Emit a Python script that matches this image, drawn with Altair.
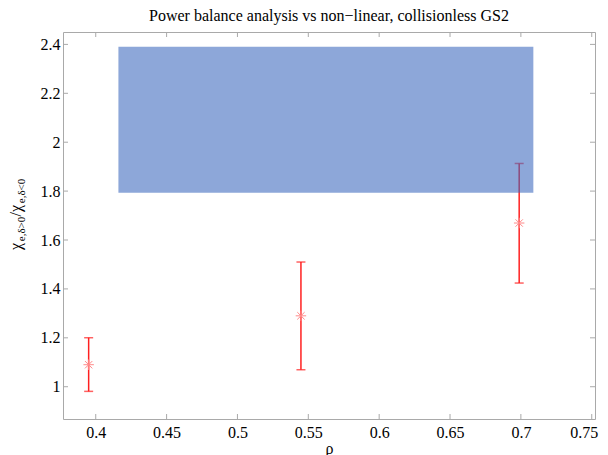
import altair as alt
import pandas as pd

# ---- data ----
rho = [0.395, 0.5448, 0.6988]
ratio = [1.090, 1.290, 1.6695]
err_lo = [0.981, 1.0695, 1.424]
err_hi = [1.2004, 1.510, 1.913]

band_x1 = [0.416]
band_x2 = [0.7088]
band_y1 = [1.7935]
band_y2 = [2.3906]

x_ticks = [0.4, 0.45, 0.5, 0.55, 0.6, 0.65, 0.7, 0.75]
y_ticks = [1.0, 1.2, 1.4, 1.6, 1.8, 2.0, 2.2, 2.4]

title_text = "Power balance analysis vs non\u2212linear, collisionless GS2"
ylab_main1 = ["\u03c7"]
ylab_sub1 = ["e,\u03b4>0"]
ylab_main2 = ["/\u03c7"]
ylab_sub2 = ["e,\u03b4<0"]

# ---- layout ----
W, H = 532, 387
FONT = "Liberation Serif"
FRAME = "#a9a9a9"
X_DOM = [0.3769, 0.7523]
Y_DOM = [0.868, 2.4507]

pts = pd.DataFrame({"rho": rho, "ratio": ratio, "lo": err_lo, "hi": err_hi})
band = pd.DataFrame({"rho": band_x1, "rho2": band_x2, "ratio": band_y1, "ratio2": band_y2})
xt = pd.DataFrame({"rho": x_ticks})
yt = pd.DataFrame({"ratio": y_ticks})

LAST_X = x_ticks[-1]


def X(field="rho"):
    return alt.X(f"{field}:Q", scale=alt.Scale(domain=X_DOM, nice=False, zero=False),
                 axis=alt.Axis(values=x_ticks, format="~g", labelPadding=5, titlePadding=0,
                               labelAlign=alt.ExprRef(f"datum.value >= {LAST_X} ? 'right' : 'center'"),
                               labelOffset=alt.ExprRef(f"datum.value >= {LAST_X} ? 6 : 0")),
                 title="\u03c1")


def Y(field="ratio"):
    return alt.Y(f"{field}:Q", scale=alt.Scale(domain=Y_DOM, nice=False, zero=False),
                 axis=alt.Axis(values=y_ticks, format="~g", labelPadding=3),
                 title=None)


base_pts = alt.Chart(pts)

bars = base_pts.mark_rule(color="#ff2020", strokeWidth=1.5).encode(
    x=X(), y=Y("lo"), y2="hi:Q")
cap_lo = base_pts.mark_tick(color="#ff2020", orient="horizontal", size=9, thickness=1.5).encode(
    x=X(), y=Y("lo"))
cap_hi = base_pts.mark_tick(color="#ff2020", orient="horizontal", size=9, thickness=1.5).encode(
    x=X(), y=Y("hi"))

asterisk = "M-1,0L1,0M0,-1L0,1M-0.7,-0.7L0.7,0.7M-0.7,0.7L0.7,-0.7"
marks = base_pts.mark_point(shape=asterisk, size=110, filled=False, strokeWidth=1,
                            color="#ff8a8a", opacity=1).encode(x=X(), y=Y())

rect = alt.Chart(band).mark_rect(color="#3b67be", opacity=0.58).encode(
    x=X(), x2="rho2:Q", y=Y(), y2="ratio2:Q")

tk = dict(color=FRAME, strokeWidth=1)
t_bottom = alt.Chart(xt).mark_rule(**tk).encode(x=X(), y=alt.value(H), y2=alt.value(H - 5))
t_top = alt.Chart(xt).mark_rule(**tk).encode(x=X(), y=alt.value(0), y2=alt.value(5))
t_left = alt.Chart(yt).mark_rule(**tk).encode(y=Y(), x=alt.value(0), x2=alt.value(5))
t_right = alt.Chart(yt).mark_rule(**tk).encode(y=Y(), x=alt.value(W), x2=alt.value(W - 5))


def ylab(lst, x, y, size):
    return alt.Chart(pd.DataFrame({"t": lst})).mark_text(
        angle=270, align="left", baseline="alphabetic", font=FONT, fontSize=size, color="black"
    ).encode(text="t:N", x=alt.value(x), y=alt.value(y))


ytitle = (ylab(ylab_main1, -42, 218, 16) + ylab(ylab_sub1, -38, 209.2, 11)
          + ylab(ylab_main2, -42, 184.4, 16) + ylab(ylab_sub2, -38, 171.2, 11))

chart = alt.layer(
    t_bottom, t_top, t_left, t_right, bars, cap_lo, cap_hi, marks, rect, ytitle
).properties(
    width=W, height=H,
    title=alt.TitleParams(title_text, anchor="middle", frame="group", offset=8),
    padding={"left": 55, "top": 24, "right": 5, "bottom": 36},
    autosize=alt.AutoSizeParams(type="none"),
).configure_axis(
    labelFont=FONT, labelFontSize=16, labelColor="black",
    titleFont=FONT, titleFontSize=16, titleFontWeight="normal", titleColor="black",
    ticks=False, domain=False, grid=False,
).configure_title(
    font=FONT, fontSize=16, fontWeight="normal", color="black",
).configure_view(stroke=FRAME, strokeWidth=1)

chart.save("out.html", embed_options={"renderer": "svg", "actions": False})
